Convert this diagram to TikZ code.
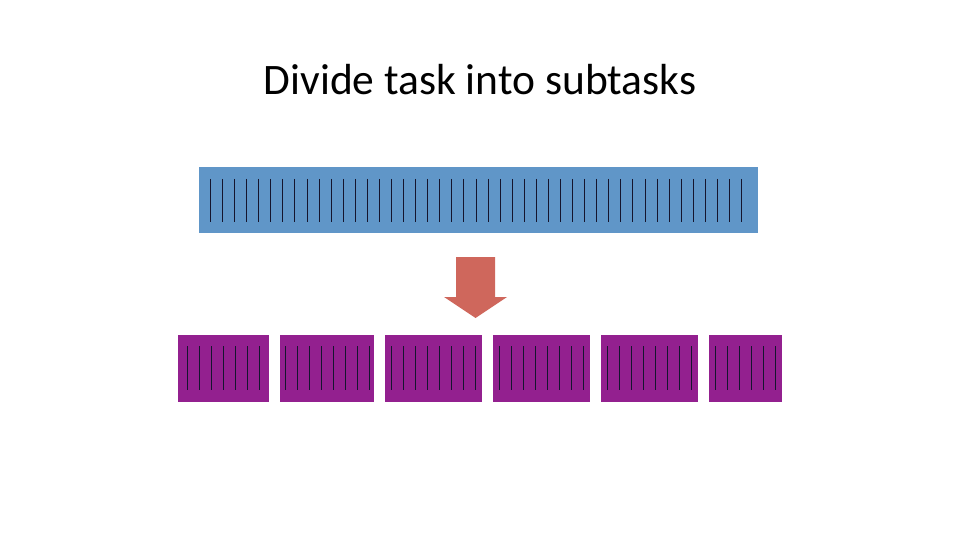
\documentclass[tikz,border=0pt]{standalone}
\usepackage{fontspec}
\setmainfont{Carlito}
\definecolor{taskblue}{HTML}{6096C8}
\definecolor{subpurple}{HTML}{93208F}
\definecolor{splitred}{HTML}{CF675C}
\definecolor{tickink}{HTML}{15152E}
\begin{document}
\begin{tikzpicture}[x=1pt,y=-1pt,
    taskbar/.style={fill=taskblue,inner sep=0pt,minimum width=559pt,minimum height=66pt},
    subbox/.style={fill=subpurple,inner sep=0pt,minimum height=67pt},
    tick/.style={draw=tickink,line width=1.2pt}]
  \useasboundingbox (0,0) rectangle (960,540);
  \node (title) at (480,80) {\fontsize{43.5}{52}\selectfont Divide task into subtasks};
  % the whole task
  \node (task) [taskbar] at (478.5,200) {};
  \foreach \i in {0,...,44}
    \draw[tick] ({210.5+round(12.07*\i)},179) -- ++(0,43);
  % the split arrow
  \coordinate (tip) at (475.5,318);
  \fill[splitred] (tip) -- ++(-31.5,-21) -- ++(12,0) -- ++(0,-40) -- ++(39,0)
    -- ++(0,40) -- ++(12,0) -- cycle;
  % the subtasks
  \foreach \l/\r/\f/\n [count=\k] in {178/269/187/6,280/374/285/7,385/482/391/7,
                                      493/590/499/7,601/698/607/7,709/782/715/5} {
    \node (sub\k) [subbox,minimum width=\r-\l] at ({(\l+\r)/2},368.5) {};
    \foreach \j in {0,...,\n}
      \draw[tick] (\f+0.5+12*\j,346) -- ++(0,44);
  }
\end{tikzpicture}
\end{document}
